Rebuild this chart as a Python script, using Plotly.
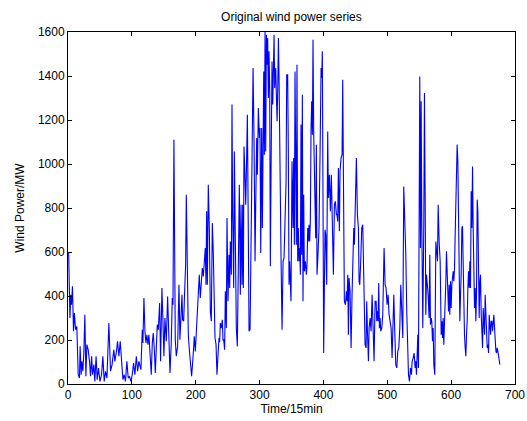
import plotly.graph_objects as go

# Time index (15-min steps) and wind power (MW)
time_idx = [
    1, 3, 4.4, 5.5, 7, 8.6, 10, 11.8, 13.8, 16, 18, 19, 20.6, 21.7, 23.3, 24.8, 26.4, 28, 29.5, 31.6,
    33.7, 35.3, 37, 38.4, 40.5, 42, 44, 45.7, 47.8, 50, 52.5, 54.6, 56.7, 58.8, 61, 64, 66.6, 69, 71.8, 73.4,
    75.5, 77.6, 79.7, 81.8, 84, 86, 88, 90, 92.2, 94.3, 96.4, 98.5, 100.6, 102.7, 104.8, 107, 109, 111,
    114.2, 115.2, 116.3, 117.3, 118.9, 120.5, 122.0, 123.6, 125.2, 126.7, 128.8, 130.4, 132.0, 133.5, 135.1,
    136.7, 138.2, 139.8, 141.4, 143.5, 145.0, 147.1, 148.7, 150.2, 151.8, 153.9, 156.0, 158.1, 159.7, 161.7,
    163.3, 164.4, 165.9, 168.0, 169.6, 171.7, 173.8, 175.3, 176.9, 178.5, 179.5, 181.1, 182.6, 184.2, 185.3,
    186.8, 188.4, 190.0, 191.5, 193.6, 195.7, 197.8, 199.4, 200.9, 202.5, 204.1, 205.6, 207.2, 208.8, 210.3,
    211.9, 213.5, 215.0, 216.1, 217.1, 218.2, 219.7, 221.3, 222.9, 224.4, 226.0, 227.6, 229.1,
    230.2, 231.8, 233.3, 234.9, 236.5, 237.5, 238.5, 240.1, 241.7, 242.7, 243.8, 245.3, 246.4, 248.0, 249.0,
    250.6, 252.1, 253.2, 254.2, 255.8, 256.8, 257.9, 259.5, 260.5, 262.1, 263.6, 265.2, 266.8, 268.3, 269.9,
    271.0, 272.5, 273.6, 274.6, 275.6, 277.2, 278.3, 279.3, 280.9, 282.4, 283.5, 285.1, 286.6, 287.7, 288.7,
    289.8, 291.3, 292.9, 293.9, 295.5, 296.5, 298.1, 299.7, 300.7, 301.8, 303.3, 304.4, 305.4, 306.5, 307.5,
    308.6, 309.6, 310.7, 311.7, 312.7, 313.8, 314.8, 315.9, 316.9, 318.0, 319.5, 320.6, 321.6, 322.7, 323.7,
    325.3, 326.3, 327.4, 328.4, 329.5, 330.5, 331.6, 333.7, 335.2, 336.8, 338.3, 339.9, 341.5, 342.5,
    344.0, 345.0, 346.1, 347.1, 349.2, 350.8, 352.4, 353.4, 354.5, 355.5, 356.5, 357.6, 358.6, 359.7, 360.7,
    361.8, 362.8, 363.9, 364.9, 365.9, 367.0, 368.0, 369.1, 370.1, 371.7, 373.3, 374.3, 375.4, 376.4, 377.4,
    378.5, 379.5, 380.6, 381.6, 382.7, 383.7, 384.8, 386.3, 387.9, 388.9, 390.0, 391.5, 393.1, 394.7, 396.3,
    397.3, 398.3, 399.4, 400.4, 401.5, 402.5, 403.6, 405.1, 406.7, 407.7, 409.3, 410.9, 412.4, 414.0, 415.6,
    417.2, 418.7, 420.3, 421.3, 422.4, 423.4, 425.0, 426.0, 427.6, 429.2, 430.2, 431.8, 432.8, 434.4, 436.0,
    437.0, 438.1, 439.1, 440.1, 441.7, 443.3, 444.8, 446.4, 447.5, 448.5, 449.5, 450.6, 451.6, 453.2, 454.8,
    455.8, 456.9, 458.4, 460.0, 461.6,
    463.1, 465.2, 466.8, 467.8, 468.9, 470.5, 471.5, 473.1, 474.6, 476.2, 477.8, 479.3, 480.9, 482.5, 483.5,
    484.6, 485.6, 486.6, 487.7, 488.7, 489.8, 491.4, 492.9, 495.0, 496.6, 498.1, 499.7, 501.3, 502.8, 504.4,
    506.0, 507.5, 509.1, 510.2, 511.7, 513.3, 514.9, 516.4, 518.0, 519.6, 521.1, 522.7, 524.3, 525.8, 527.4,
    529.0, 530.5, 532.1, 533.2, 534.7, 536.3, 537.9, 538.9, 540.5, 542.0, 543.6, 544.6, 545.7, 546.7, 547.8,
    548.8, 549.9, 550.9, 552.0, 553.0, 554.1, 555.6, 557.2, 558.2, 559.3, 560.3, 561.4, 562.4, 564.0, 565.5,
    566.6, 567.6, 568.7, 569.7, 570.8, 571.8, 572.9, 574.4, 576.0,
    578.6, 579.7, 581.2, 582.8, 584.4, 585.4, 586.5, 587.5, 588.5, 589.6, 590.6, 591.7, 592.7, 593.8, 594.8,
    595.9, 596.9, 597.9, 599.0, 600.0, 601.1, 602.1, 603.2, 604.2, 605.3, 606.3, 607.4, 608.4, 609.4, 610.5,
    611.5, 612.6, 613.6, 614.7, 615.7, 616.8, 617.8, 618.8, 619.9, 620.9, 622.0, 623.0, 624.1, 625.1, 626.2,
    627.2, 628.3, 629.3, 630.3, 631.4, 632.4, 633.5, 634.5, 635.6, 636.6, 637.7, 638.7, 639.7, 640.8, 641.8,
    642.9, 643.9, 645.0, 646.0, 647.1, 648.1, 649.2, 650.2, 651.2, 652.3, 653.3, 654.4, 655.4, 656.5, 657.5,
    658.6, 659.6, 660.6, 661.7, 662.7, 663.8, 664.8, 665.9, 666.9, 668.0, 669.0, 670.1, 671.1, 672.1, 673.2,
    674.2, 675.3, 676.3,
]

power_mw = [
    600, 300, 406, 360, 444, 240, 323, 247, 262, 42, 27, 171, 42, 103, 58, 141, 315, 35, 179, 156,
    103, 35, 126, 42, 88, 12, 126, 20, 73, 12, 42, 126, 12, 58, 27, 277, 58, 88, 156, 103,
    141, 194, 126, 194, 103, 20, 42, 12, 103, 27, 35, 12, 42, 95, 42, 126, 58, 103,
    65, 126, 247, 186, 391, 240, 186, 224, 179, 224, 141, 42, 186, 232, 164,
    50, 156, 270, 247, 368, 103, 436, 285, 126, 300, 194, 398, 179, 50, 186,
    391, 360, 1110, 201, 126, 171, 451, 201, 330, 406, 292, 285, 413, 542, 860,
    406, 224, 156, 103, 35, 118, 217, 148, 240, 376, 421, 497, 391, 459, 527,
    489, 573, 618, 451, 785, 451, 906, 709, 330, 285, 732, 588, 209,
    209, 180, 42, 130, 209, 190, 277, 254, 292, 200, 201, 156, 421, 254, 754,
    376, 588, 436, 648, 497, 1270, 770, 436, 1057, 497, 254, 171, 558, 906, 406,
    815, 451, 815, 436, 1080, 936, 815, 951, 1224, 679, 240, 247, 679, 921, 1164,
    1436, 1118, 558, 800, 1118, 951, 1254, 1118, 1164, 595, 1164, 709, 1164, 1421, 1042,
    1600, 1057, 1588, 1451, 1573, 1300, 1512, 1330, 535, 982, 1466, 1270, 1466, 1588, 1345,
    1436, 1315, 1194, 1330, 1573, 1391, 982, 557, 247, 558, 573, 770, 921, 1406,
    1406, 1073, 451, 558, 376, 1012, 709, 1027, 633, 1421, 921, 633, 1451, 558, 709,
    558, 618, 497, 1179, 588, 1315, 376, 860, 512, 558, 497, 542, 709, 648, 724,
    648, 739, 1164, 1285, 1133, 1565, 1133, 860, 663, 1088, 497, 588, 709, 1042, 1436,
    1391, 1512, 1012, 141, 436, 701, 679, 451, 1148, 845, 951, 785, 951, 724, 497,
    815, 830, 770, 770, 739, 982, 694, 967, 1027, 1042, 1383, 679, 376, 360, 421,
    376, 497, 224, 482, 421, 164, 406, 558, 709, 633, 770, 770, 1027, 770, 709,
    467, 451, 558, 709, 724,
    527, 179, 164, 376, 240, 103, 254, 300, 240, 406, 254, 103, 376, 376, 285,
    330, 285, 459, 254, 300, 240, 254, 315, 618, 451, 436, 360, 406, 315, 285,
    254, 118, 254, 406, 240, 88, 73, 148, 164, 254, 451, 330, 209, 898, 770,
    588, 330, 164, 42, 12, 73, 42, 103, 118, 141, 73, 103, 42, 103, 224,
    73, 770, 1398, 618, 1285, 709, 254, 739, 1323, 860, 315, 497, 467, 406, 300,
    588, 270, 300, 285, 194, 254, 88, 42, 648,
    558, 815, 648, 558, 224, 285, 209, 300, 179, 254, 315, 467, 603, 527, 436,
    330, 451, 315, 467, 345, 451, 497, 512, 467, 527, 679, 800, 951, 1088, 1012,
    709, 451, 285, 406, 497, 709, 717, 558, 330, 224, 164, 126, 224, 285, 436,
    512, 436, 558, 436, 876, 709, 989, 709, 467, 345, 436, 285, 406, 838, 785,
    527, 300, 467, 497, 315, 194, 164, 345, 285, 224, 406, 345, 254, 164, 179,
    141, 315, 285, 224, 285, 285, 240, 300, 315, 254, 179, 148, 141, 164, 148,
    118, 103, 88,
]

x_ticks = [0, 100, 200, 300, 400, 500, 600, 700]
y_ticks = [0, 200, 400, 600, 800, 1000, 1200, 1400, 1600]

FONT = "Liberation Sans, Arial, sans-serif"

fig = go.Figure()
fig.add_trace(go.Scatter(
    x=time_idx, y=power_mw, mode="lines",
    line=dict(color="#0000FF", width=1.1),
    showlegend=False, hoverinfo="skip",
))

axis_common = dict(
    showline=True, linecolor="black", linewidth=1, mirror="ticks",
    ticks="inside", ticklen=4, tickcolor="black", tickwidth=1,
    showgrid=False, zeroline=False, automargin=False,
    tickfont=dict(family=FONT, size=12, color="black"),
)

fig.update_layout(
    width=527, height=421,
    margin=dict(l=68, r=12, t=32, b=37, autoexpand=False),
    paper_bgcolor="white", plot_bgcolor="white",
    title=dict(text="Original wind power series", x=0.553, xanchor="center", y=0.96, yanchor="middle",
               font=dict(family=FONT, size=12, color="black")),
    xaxis=dict(range=[0, 700], tickvals=x_ticks, ticktext=[str(v) for v in x_ticks],
               title=dict(text="Time/15min", standoff=3, font=dict(family=FONT, size=12, color="black")),
               **axis_common),
    yaxis=dict(range=[0, 1600], tickvals=y_ticks, ticktext=[str(v) for v in y_ticks],
               title=dict(text="Wind Power/MW", standoff=10, font=dict(family=FONT, size=12, color="black")),
               **axis_common),
)

fig.write_html("out.html", config={"displayModeBar": False, "staticPlot": True},
               post_script="document.body.style.margin='0';document.body.style.padding='0';")
